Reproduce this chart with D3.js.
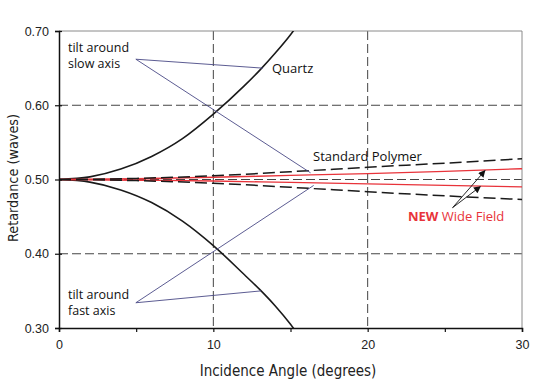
<!DOCTYPE html>
<html>
<head>
<meta charset="utf-8">
<script src="https://cdn.jsdelivr.net/npm/d3@7"></script>
<style>
  body { margin: 0; background: #fff; }
  svg { display: block; }
</style>
</head>
<body>
<svg id="chart"></svg>
<script>
// incidence angles (degrees) and retardance (waves)
const quartzAngles = [0, 2, 4, 6, 8, 10, 12, 13, 14, 15, 15.6];
const quartzSlow   = [0.500, 0.5035, 0.514, 0.531, 0.555, 0.588, 0.626, 0.647, 0.670, 0.695, 0.712];
const quartzFast   = [0.500, 0.4965, 0.486, 0.469, 0.444, 0.411, 0.372, 0.352, 0.330, 0.305, 0.288];

const polymerAngles = [0, 5, 10, 15, 20, 25, 30];
const polymerSlow   = [0.500, 0.5015, 0.505, 0.5105, 0.5165, 0.522, 0.528];
const polymerFast   = [0.500, 0.4985, 0.495, 0.4895, 0.4835, 0.478, 0.473];

const wideAngles = [0, 5, 10, 15, 20, 25, 30];
const wideSlow   = [0.500, 0.501, 0.503, 0.5055, 0.508, 0.511, 0.5145];
const wideFast   = [0.500, 0.499, 0.498, 0.496, 0.494, 0.492, 0.490];

const xTicks = [0, 5, 10, 15, 20, 25, 30];
const xLabels = [0, 10, 20, 30];
const yTicks = [0.30, 0.40, 0.50, 0.60, 0.70];
const xGrid = [10, 20];
const yGrid = [0.40, 0.50, 0.60];

// callouts: label anchor point -> points on curves (data coordinates)
const slowCallout = { from: [4.98, 0.662], to: [[13.2, 0.650], [16.3, 0.509]] };
const fastCallout = { from: [4.98, 0.334], to: [[13.1, 0.350], [16.5, 0.492]] };
const wideArrows  = { from: [25.5, 0.462], to: [[27.6, 0.512], [27.3, 0.4905]] };

const width = 542, height = 389;
const margin = { top: 31, right: 20, bottom: 61, left: 59 };

const svg = d3.select('#chart')
    .attr('width', width)
    .attr('height', height);

const xscale = d3.scaleLinear().domain([0, 30]).range([margin.left, width - margin.right]);
const yscale = d3.scaleLinear().domain([0.3, 0.7]).range([height - margin.bottom, margin.top]);

svg.append('defs').append('clipPath').attr('id', 'plot')
  .append('rect')
    .attr('x', xscale(0)).attr('y', yscale(0.7))
    .attr('width', xscale(30) - xscale(0))
    .attr('height', yscale(0.3) - yscale(0.7));

svg.select('defs').append('marker')
    .attr('id', 'arrow')
    .attr('viewBox', '0 0 10 10')
    .attr('refX', 9).attr('refY', 5)
    .attr('markerWidth', 9).attr('markerHeight', 7)
    .attr('markerUnits', 'userSpaceOnUse')
    .attr('orient', 'auto')
  .append('path')
    .attr('d', 'M0,0 L10,5 L0,10 z')
    .attr('fill', '#111');

// grid
const grid = svg.append('g');
grid.selectAll('.vg').data(xGrid).enter().append('line')
    .attr('x1', d => xscale(d)).attr('x2', d => xscale(d))
    .attr('y1', yscale(0.7)).attr('y2', yscale(0.3))
    .attr('stroke', '#444').attr('stroke-width', 1).attr('stroke-dasharray', '9,4');
grid.selectAll('.hg').data(yGrid).enter().append('line')
    .attr('x1', xscale(0)).attr('x2', xscale(30))
    .attr('y1', d => yscale(d)).attr('y2', d => yscale(d))
    .attr('stroke', '#444').attr('stroke-width', 1).attr('stroke-dasharray', '9,4');

// top and right frame
svg.append('path')
    .attr('d', `M${xscale(0)},${yscale(0.7)} H${xscale(30)} V${yscale(0.3)}`)
    .attr('fill', 'none').attr('stroke', '#8a8a8a').attr('stroke-width', 1);

const line = d3.line().x(d => xscale(d[0])).y(d => yscale(d[1])).curve(d3.curveMonotoneX);
const curves = svg.append('g').attr('clip-path', 'url(#plot)');

function series(angles, values) { return angles.map((a, i) => [a, values[i]]); }

[quartzSlow, quartzFast].forEach(v => {
  curves.append('path').datum(series(quartzAngles, v)).attr('d', line)
      .attr('fill', 'none').attr('stroke', '#1a1a1a').attr('stroke-width', 1.6);
});
[wideSlow, wideFast].forEach(v => {
  curves.append('path').datum(series(wideAngles, v)).attr('d', line)
      .attr('fill', 'none').attr('stroke', '#e8333a').attr('stroke-width', 1.3);
});
[polymerSlow, polymerFast].forEach(v => {
  curves.append('path').datum(series(polymerAngles, v)).attr('d', line)
      .attr('fill', 'none').attr('stroke', '#1a1a1a').attr('stroke-width', 1.5)
      .attr('stroke-dasharray', '12,5');
});

// callout lines
const callouts = svg.append('g');
[slowCallout, fastCallout].forEach(c => {
  c.to.forEach(p => {
    callouts.append('line')
        .attr('x1', xscale(c.from[0])).attr('y1', yscale(c.from[1]))
        .attr('x2', xscale(p[0])).attr('y2', yscale(p[1]))
        .attr('stroke', '#4a4a86').attr('stroke-width', 0.9);
  });
});
wideArrows.to.forEach(p => {
  callouts.append('line')
      .attr('x1', xscale(wideArrows.from[0])).attr('y1', yscale(wideArrows.from[1]))
      .attr('x2', xscale(p[0])).attr('y2', yscale(p[1]))
      .attr('stroke', '#111').attr('stroke-width', 0.9)
      .attr('marker-end', 'url(#arrow)');
});

// axes
const yaxis = d3.axisLeft(yscale).tickValues(yTicks).tickFormat(d3.format('.2f')).tickSizeOuter(0).tickSize(4).tickPadding(6);
const yg = svg.append('g').attr('transform', `translate(${xscale(0)},0)`).call(yaxis);
yg.selectAll('.tick line').attr('x1', 3);

const xaxis = d3.axisBottom(xscale).tickValues(xTicks)
    .tickFormat(d => xLabels.includes(d) ? d : '').tickSizeOuter(0).tickSize(4).tickPadding(8);
const xg = svg.append('g').attr('transform', `translate(0,${yscale(0.3)})`).call(xaxis);

[yg, xg].forEach(g => {
  g.select('.domain').attr('stroke', '#111').attr('stroke-width', 1.5);
  g.selectAll('.tick line').attr('stroke', '#111').attr('stroke-width', 1.2);
  g.selectAll('text').attr('font-family', 'Liberation Sans, Arial, sans-serif')
      .attr('font-size', 12.5).attr('fill', '#222');
});

// axis titles
svg.append('text')
    .attr('x', 288).attr('y', 376)
    .attr('text-anchor', 'middle')
    .attr('font-family', 'DejaVu Sans Condensed, DejaVu Sans, sans-serif')
    .attr('font-size', 15).attr('fill', '#222')
    .text('Incidence Angle (degrees)');
svg.append('text')
    .attr('transform', 'translate(18,178) rotate(-90)')
    .attr('text-anchor', 'middle')
    .attr('font-family', 'DejaVu Sans Condensed, DejaVu Sans, sans-serif')
    .attr('font-size', 14.3).attr('fill', '#222')
    .text('Retardance (waves)');

// annotations
const note = svg.append('g')
    .attr('font-family', 'Open Sans, sans-serif')
    .attr('font-size', 12.5).attr('fill', '#111');
note.append('text').attr('x', 68).attr('y', 52).text('tilt around');
note.append('text').attr('x', 68).attr('y', 68).text('slow axis');
note.append('text').attr('x', 68).attr('y', 299).text('tilt around');
note.append('text').attr('x', 68).attr('y', 315).text('fast axis');
note.append('text').attr('x', 272).attr('y', 73).attr('font-size', 13).text('Quartz');
note.append('text').attr('x', 313).attr('y', 161).attr('font-size', 13).text('Standard Polymer');

const wide = note.append('text').attr('x', 408).attr('y', 221).attr('font-size', 13).attr('fill', '#e8333a');
wide.append('tspan').attr('font-weight', 'bold').text('NEW');
wide.append('tspan').text(' Wide Field');
</script>
</body>
</html>
